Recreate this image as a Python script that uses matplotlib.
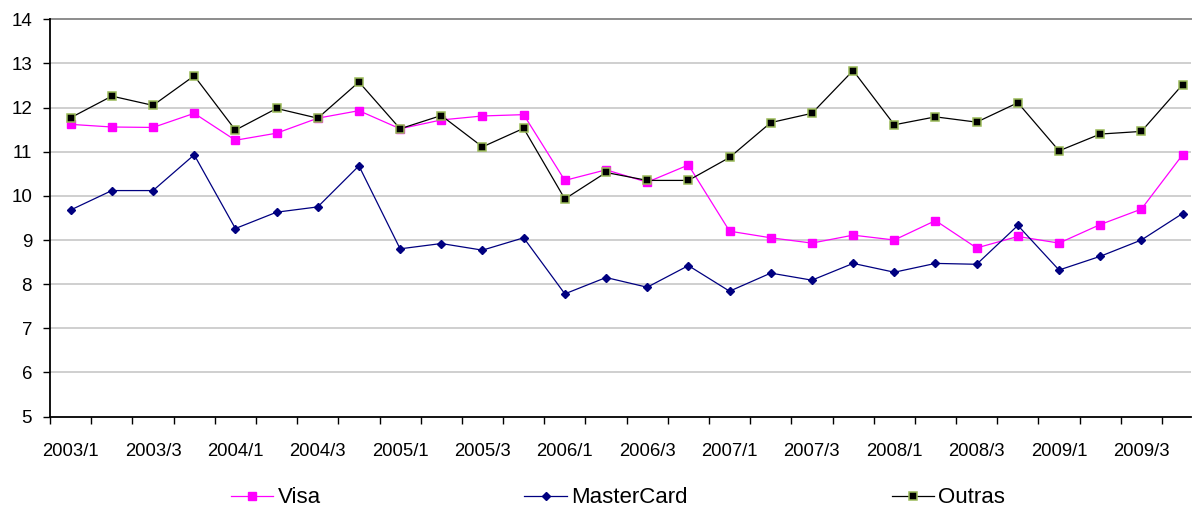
import matplotlib
matplotlib.use("Agg")
import matplotlib.pyplot as plt
from matplotlib.ticker import FixedLocator, NullFormatter

plt.rcParams['font.family'] = ['Liberation Sans', 'DejaVu Sans']

# Quarterly series, 2003/1 .. 2009/4
quarters = [f"{y}/{q}" for y in range(2003, 2010) for q in range(1, 5)]

visa = [11.62, 11.56, 11.55, 11.87, 11.26, 11.42, 11.76, 11.93,
        11.52, 11.72, 11.81, 11.84, 10.35, 10.59, 10.31, 10.70,
        9.20, 9.05, 8.93, 9.11, 9.00, 9.44, 8.82, 9.08,
        8.93, 9.35, 9.70, 10.93]

mastercard = [9.68, 10.12, 10.12, 10.93, 9.26, 9.63, 9.75, 10.68,
              8.80, 8.92, 8.77, 9.05, 7.78, 8.15, 7.93, 8.42,
              7.84, 8.25, 8.09, 8.47, 8.27, 8.47, 8.45, 9.33,
              8.32, 8.63, 9.00, 9.60]

outras = [11.77, 12.26, 12.05, 12.72, 11.49, 11.98, 11.76, 12.58,
          11.52, 11.82, 11.11, 11.53, 9.93, 10.53, 10.35, 10.35,
          10.87, 11.66, 11.87, 12.84, 11.61, 11.79, 11.67, 12.11,
          11.02, 11.40, 11.46, 12.52]

yticks = [5, 6, 7, 8, 9, 10, 11, 12, 13, 14]

fig, ax = plt.subplots(figsize=(11.92, 5.08), dpi=100)
plt.subplots_adjust(left=0.042, right=0.999, top=0.962, bottom=0.180)

x = list(range(len(quarters)))

l_visa, = ax.plot(x, visa, color='#FF00FF', lw=0.9, marker='s', markersize=5.2,
                  markerfacecolor='#FF00FF', markeredgecolor='#FF00FF', label='Visa', zorder=3)
l_mc, = ax.plot(x, mastercard, color='#000080', lw=0.9, marker='D', markersize=4.2,
                markerfacecolor='#000080', markeredgecolor='#000080', label='MasterCard', zorder=3)
l_out, = ax.plot(x, outras, color='black', lw=0.9, marker='s', markersize=5.4,
                 markerfacecolor='black', markeredgecolor='#9BBB59', markeredgewidth=1.1,
                 label='Outras', zorder=4)

ax.set_ylim(5, 14)
ax.set_yticks(yticks)
ax.set_xlim(-0.5, 27.2)

# category boundaries get tick marks, every other category gets a label
ax.xaxis.set_major_locator(FixedLocator([i - 0.5 for i in range(len(quarters) + 1)]))
ax.xaxis.set_major_formatter(NullFormatter())
ax.xaxis.set_minor_locator(FixedLocator(x[::2]))
ax.set_xticklabels(quarters[::2], minor=True)
ax.tick_params(axis='x', which='major', length=5, width=1, direction='out', color='black')
ax.tick_params(axis='x', which='minor', length=0, pad=19, labelsize=13.3)
ax.tick_params(axis='y', length=5, width=1, direction='out', labelsize=13.5, pad=8)

for v in yticks[1:-1]:
    ax.axhline(v, color='#cfcfcf', lw=1.4, zorder=1)
ax.axhline(14, color='#8c8c8c', lw=1.4, zorder=1, clip_on=False)

ax.spines['top'].set_visible(False)
ax.spines['right'].set_visible(False)
ax.spines['left'].set_linewidth(1.3)
ax.spines['bottom'].set_linewidth(1.3)

# legend entries spread across the bottom
for h, xpos in [(l_visa, 0.194), (l_mc, 0.440), (l_out, 0.748)]:
    fig.legend(handles=[h], loc='center left', bbox_to_anchor=(xpos, 0.02),
               frameon=False, fontsize=16, handlelength=1.9, handletextpad=0.2,
               borderpad=0, borderaxespad=0)

plt.savefig("out.png", dpi=100)
